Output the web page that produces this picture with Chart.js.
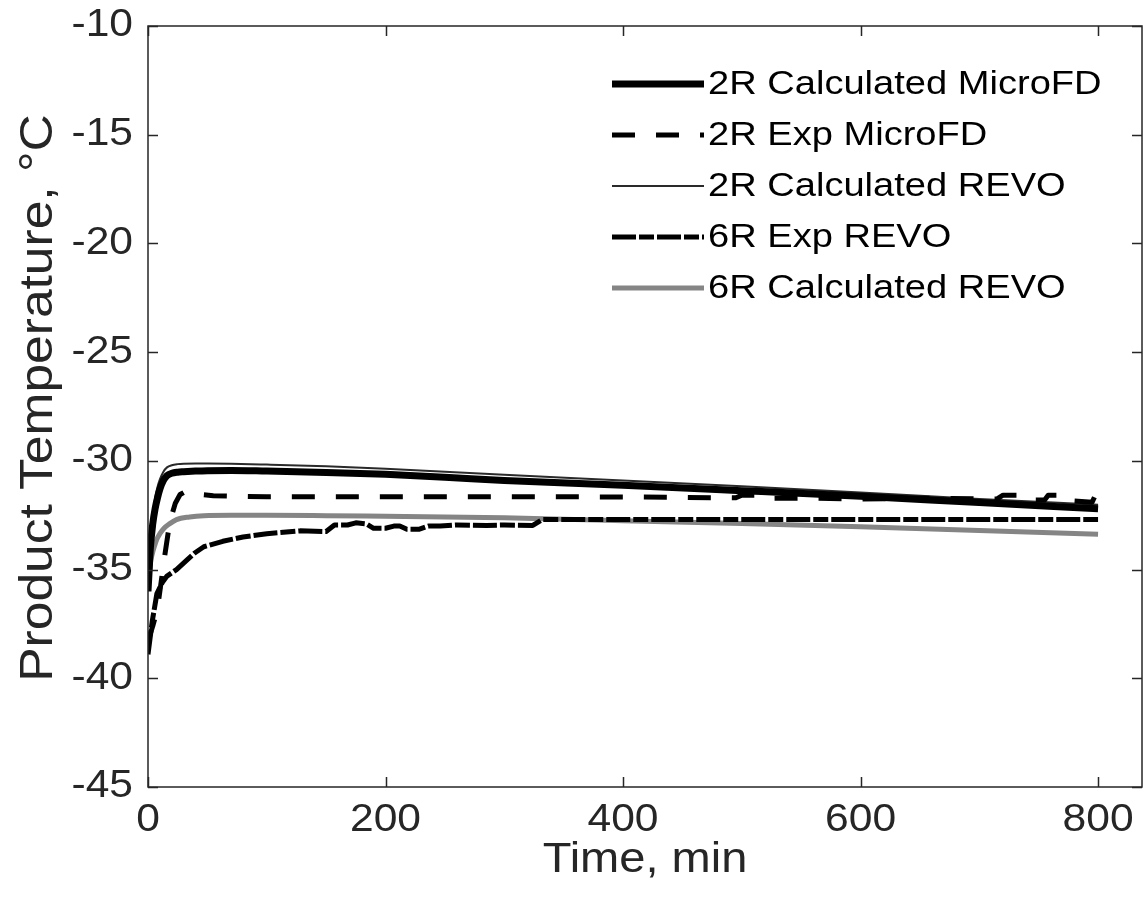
<!DOCTYPE html>
<html>
<head>
<meta charset="utf-8">
<script src="https://cdn.jsdelivr.net/npm/chart.js@4.4.1/dist/chart.umd.min.js"></script>
<style>
  html, body { margin: 0; padding: 0; background: #fff; }
  #grafico { display: block; }
</style>
</head>
<body>
<canvas id="grafico" width="1144" height="914"></canvas>
<script>
// ================================
// DATOS
// ================================
const xTicks = [0, 200, 400, 600, 800];
const yTicks = [-45, -40, -35, -30, -25, -20, -15, -10];
const tituloX = "Time, min";
const tituloY = "Product Temperature, °C";

const etiquetas = [
  "2R Calculated MicroFD",
  "2R Exp MicroFD",
  "2R Calculated REVO",
  "6R Exp REVO",
  "6R Calculated REVO",
];

// 2R Calculated MicroFD (thick black)
const calcMicroX = [0, 1, 2, 4, 6, 8, 10, 13, 16, 20, 25, 30, 40, 50, 70, 100, 150, 200, 250, 300, 400, 500, 600, 700, 800];
const calcMicroY = [-36.0, -35.0, -34.0, -32.9, -32.2, -31.7, -31.3, -30.9, -30.68, -30.57, -30.52, -30.5, -30.47, -30.45, -30.44, -30.47, -30.53, -30.62, -30.75, -30.9, -31.12, -31.37, -31.63, -31.92, -32.2];

// 2R Exp MicroFD (dashed)
const expMicroX = [0, 4, 8, 11, 14, 17, 20, 23, 27, 32, 38, 45, 55, 70, 100, 200, 300, 400, 495, 500, 515, 520, 560, 600, 650, 700, 715, 720, 740, 745, 755, 758, 776, 780, 795, 798, 800];
const expMicroY = [-38.3, -37.6, -36.8, -35.6, -34.4, -33.3, -32.5, -31.95, -31.55, -31.4, -31.45, -31.55, -31.6, -31.62, -31.65, -31.65, -31.65, -31.66, -31.7, -31.58, -31.58, -31.72, -31.72, -31.75, -31.72, -31.75, -31.75, -31.58, -31.58, -31.8, -31.8, -31.58, -31.58, -31.85, -31.9, -31.55, -31.55];

// 2R Calculated REVO (thin line)
const calcRevo2X = [0, 1, 2, 4, 6, 8, 10, 13, 16, 20, 25, 30, 40, 50, 70, 100, 150, 200, 250, 300, 400, 500, 600, 700, 800];
const calcRevo2Y = [-36.0, -34.8, -33.7, -32.5, -31.7, -31.2, -30.85, -30.5, -30.3, -30.2, -30.15, -30.13, -30.12, -30.12, -30.13, -30.17, -30.25, -30.36, -30.5, -30.64, -30.9, -31.17, -31.45, -31.75, -32.02];

// 6R Exp REVO (dash-dot)
const expRevoX = [0, 3.5, 7.5, 12, 16, 24, 32, 39, 47, 63, 80, 100, 128, 150, 157, 168, 175, 184, 190, 200, 207, 212, 218, 228, 236, 246, 260, 285, 300, 324, 332, 345, 400, 500, 600, 700, 800];
const expRevoY = [-38.9, -37.4, -36.1, -35.6, -35.3, -35.0, -34.6, -34.25, -33.95, -33.7, -33.5, -33.35, -33.22, -33.25, -32.95, -32.95, -32.85, -32.9, -33.1, -33.1, -33.0, -33.0, -33.15, -33.15, -33.0, -33.0, -32.95, -32.97, -32.95, -32.97, -32.7, -32.7, -32.7, -32.7, -32.7, -32.7, -32.7];

// 6R Calculated REVO (gray)
const calcRevo6X = [0, 1, 2, 3.5, 5, 7.5, 10, 13.5, 18, 24, 35, 47, 70, 100, 150, 200, 250, 300, 350, 400, 500, 600, 700, 800];
const calcRevo6Y = [-36.0, -35.3, -34.7, -34.3, -34.0, -33.6, -33.35, -33.1, -32.9, -32.7, -32.58, -32.52, -32.5, -32.5, -32.52, -32.55, -32.58, -32.62, -32.68, -32.75, -32.88, -33.03, -33.2, -33.38];

// ================================
// ESTILO
// ================================
const COLOR_EJE = "#262626";
const FUENTE = '"Liberation Sans", Arial, Helvetica, sans-serif';
const ESTIRADO = 1.12; // el texto del original es algo mas ancho que Arial

const puntos = (xs, ys) => xs.map((x, i) => ({ x, y: ys[i] }));

const datasets = [
  { label: etiquetas[0], data: puntos(calcMicroX, calcMicroY), borderColor: "#000000", borderWidth: 7, borderDash: [], cubicInterpolationMode: "monotone" },
  { label: etiquetas[1], data: puntos(expMicroX, expMicroY), borderColor: "#000000", borderWidth: 5, borderDash: [23, 21] },
  { label: etiquetas[2], data: puntos(calcRevo2X, calcRevo2Y), borderColor: "#2a2a2a", borderWidth: 2, borderDash: [], cubicInterpolationMode: "monotone" },
  { label: etiquetas[3], data: puntos(expRevoX, expRevoY), borderColor: "#000000", borderWidth: 5, borderDash: [24, 3, 15, 3] },
  { label: etiquetas[4], data: puntos(calcRevo6X, calcRevo6Y), borderColor: "#858585", borderWidth: 5, borderDash: [], cubicInterpolationMode: "monotone" },
].map((d) => ({ ...d, pointRadius: 0, fill: false, borderCapStyle: "butt", borderJoinStyle: "round" }));

// texto "ancho": escala horizontal para imitar el original
function textoAncho(ctx, texto, x, y, align) {
  ctx.save();
  ctx.translate(x, y);
  ctx.scale(ESTIRADO, 1);
  ctx.textAlign = align;
  ctx.fillText(texto, 0, 0);
  ctx.restore();
}

// ================================
// PLUGIN: caja, ticks, textos, leyenda
// ================================
const marcoMatlab = {
  id: "marcoMatlab",
  afterDatasetsDraw(chart) {
    const { ctx, chartArea: a, scales } = chart;
    ctx.save();
    ctx.strokeStyle = COLOR_EJE;
    ctx.lineWidth = 1.5;
    ctx.setLineDash([]);
    ctx.strokeRect(a.left, a.top, a.right - a.left, a.bottom - a.top);
    const largo = 10;
    ctx.beginPath();
    xTicks.forEach((v) => {
      const px = Math.round(scales.x.getPixelForValue(v)) + 0.5;
      ctx.moveTo(px, a.bottom); ctx.lineTo(px, a.bottom - largo);
      ctx.moveTo(px, a.top); ctx.lineTo(px, a.top + largo);
    });
    yTicks.forEach((v) => {
      const py = Math.round(scales.y.getPixelForValue(v)) + 0.5;
      ctx.moveTo(a.left, py); ctx.lineTo(a.left + largo, py);
      ctx.moveTo(a.right, py); ctx.lineTo(a.right - largo, py);
    });
    ctx.stroke();
    ctx.restore();
  },
  afterDraw(chart) {
    const { ctx, chartArea: a, scales } = chart;
    ctx.save();
    ctx.fillStyle = COLOR_EJE;
    ctx.textBaseline = "middle";

    // etiquetas de los ticks
    ctx.font = "38px " + FUENTE;
    xTicks.forEach((v) => {
      textoAncho(ctx, String(v), scales.x.getPixelForValue(v), a.bottom + 34, "center");
    });
    yTicks.forEach((v) => {
      textoAncho(ctx, String(v), a.left - 15, scales.y.getPixelForValue(v), "right");
    });

    // titulos de ejes
    ctx.font = "42px " + FUENTE;
    textoAncho(ctx, tituloX, (a.left + a.right) / 2, a.bottom + 73, "center");
    ctx.font = "46px " + FUENTE;
    ctx.save();
    ctx.translate(39, 398);
    ctx.rotate(-Math.PI / 2);
    textoAncho(ctx, tituloY, 0, 0, "center");
    ctx.restore();

    // leyenda (sin caja)
    ctx.font = "34px " + FUENTE;
    ctx.fillStyle = "#000000";
    const x0 = 612, x1 = 704, xTexto = 708, y0 = 84, paso = 51;
    chart.data.datasets.forEach((ds, i) => {
      const y = y0 + paso * i;
      ctx.save();
      ctx.strokeStyle = ds.borderColor;
      ctx.lineWidth = ds.borderWidth;
      ctx.lineCap = "butt";
      ctx.setLineDash(ds.borderDash || []);
      ctx.beginPath();
      ctx.moveTo(x0, y);
      ctx.lineTo(x1, y);
      ctx.stroke();
      ctx.restore();
      textoAncho(ctx, ds.label, xTexto, y + 1, "left");
    });
    ctx.restore();
  },
};

// ================================
// GRAFICO
// ================================
new Chart(document.getElementById("grafico"), {
  type: "line",
  data: { datasets },
  options: {
    responsive: false,
    devicePixelRatio: 1,
    animation: false,
    layout: { padding: { top: 26, right: 2, left: 0, bottom: 0 } },
    plugins: { legend: { display: false }, tooltip: { enabled: false } },
    scales: {
      x: {
        type: "linear",
        min: 0,
        max: 837,
        grid: { display: false },
        border: { display: false },
        ticks: { display: false },
        afterBuildTicks: (s) => { s.ticks = xTicks.map((v) => ({ value: v })); },
        afterFit: (s) => { s.height = 127; },
      },
      y: {
        type: "linear",
        min: -45,
        max: -10,
        grid: { display: false },
        border: { display: false },
        ticks: { display: false },
        afterBuildTicks: (s) => { s.ticks = yTicks.map((v) => ({ value: v })); },
        afterFit: (s) => { s.width = 148; },
      },
    },
  },
  plugins: [marcoMatlab],
});
</script>
</body>
</html>
